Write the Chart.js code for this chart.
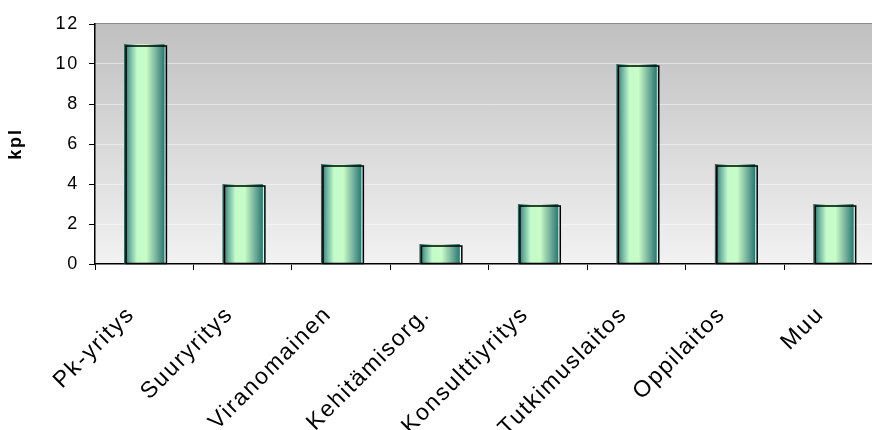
<!DOCTYPE html>
<html>
<head>
<meta charset="utf-8">
<script src="https://cdn.jsdelivr.net/npm/chart.js@4/dist/chart.umd.min.js"></script>
<style>
  html, body { margin: 0; padding: 0; background: #fff; overflow: hidden; }
  #wrap { width: 884px; height: 430px; }
</style>
</head>
<body>
<div id="wrap"><canvas id="barChart"></canvas></div>
<script>
var categories = ['Pk-yritys', 'Suuryritys', 'Viranomainen', 'Kehitämisorg.', 'Konsulttiyritys', 'Tutkimuslaitos', 'Oppilaitos', 'Muu'];
var counts = [11, 4, 5, 1, 3, 10, 5, 3];
var yTicks = [0, 2, 4, 6, 8, 10, 12];
var yTitle = 'kpl';

var fontFamily = 'Liberation Sans, Arial, sans-serif';

// gray gradient behind the plot + dark top edge
var plotBackground = {
  id: 'plotBackground',
  beforeDraw: function(chart) {
    var a = chart.chartArea, ctx = chart.ctx;
    ctx.letterSpacing = '1.8px';
    var g = ctx.createLinearGradient(0, a.top, 0, a.bottom);
    g.addColorStop(0, '#c0c0c0');
    g.addColorStop(1, '#f2f2f2');
    ctx.save();
    ctx.fillStyle = g;
    ctx.fillRect(a.left, a.top, a.right - a.left, a.bottom - a.top);
    ctx.fillStyle = '#8c8c8c';
    ctx.fillRect(a.left, a.top - 1, a.right - a.left, 2);
    ctx.restore();
  }
};

// cylinder-ish horizontal gradient on each bar, then a black outline
// shifted a little to the right/down, like the old 3D look
var barShade = {
  id: 'barShade',
  afterDatasetsDraw: function(chart) {
    var ctx = chart.ctx;
    ctx.save();
    chart.getDatasetMeta(0).data.forEach(function(bar) {
      var x0 = bar.x - bar.width / 2;
      var h = bar.base - bar.y;
      var g = ctx.createLinearGradient(x0, 0, x0 + bar.width, 0);
      g.addColorStop(0, '#17665f');
      g.addColorStop(0.12, '#5fa896');
      g.addColorStop(0.32, '#c4fbc8');
      g.addColorStop(0.55, '#c8fcc8');
      g.addColorStop(0.8, '#74b09d');
      g.addColorStop(1, '#267a70');
      ctx.fillStyle = g;
      ctx.fillRect(x0, bar.y, bar.width, h);
      ctx.strokeStyle = '#000';
      ctx.lineWidth = 1.5;
      ctx.strokeRect(x0 + 2, bar.y + 2, bar.width, h - 2);
    });
    ctx.restore();
  }
};

var ctx = document.getElementById('barChart');
new Chart(ctx, {
  type: 'bar',
  data: {
    labels: categories,
    datasets: [{
      data: counts,
      backgroundColor: 'rgba(0,0,0,0)',
      borderWidth: 0,
      categoryPercentage: 0.41,
      barPercentage: 1
    }]
  },
  options: {
    responsive: true,
    maintainAspectRatio: false,
    animation: false,
    layout: { padding: { top: 24, left: 0, right: 0, bottom: 0 } },
    plugins: { legend: { display: false }, tooltip: { enabled: false } },
    scales: {
      x: {
        afterFit: function(scale) { scale.height = 166; },
        grid: { drawOnChartArea: false, drawTicks: true, tickLength: 6, tickColor: '#000', offset: true },
        border: { color: '#000', width: 1.5 },
        ticks: {
          color: '#000',
          font: { family: fontFamily, size: 23 },
          maxRotation: 45, minRotation: 45,
          padding: 31,
          labelOffset: -13,
          autoSkip: false
        }
      },
      y: {
        min: 0, max: 12,
        afterFit: function(scale) { scale.width = 95; },
        afterBuildTicks: function(scale) { scale.ticks = yTicks.map(function(v) { return { value: v }; }); },
        grid: { color: 'rgba(255,255,255,0.45)', lineWidth: 1, drawTicks: true, tickLength: 6, tickColor: '#000' },
        border: { color: '#000', width: 1.5 },
        ticks: {
          color: '#000',
          font: { family: fontFamily, size: 18 },
          padding: 10
        },
        title: {
          display: true,
          text: yTitle,
          color: '#000',
          font: { family: fontFamily, size: 18, weight: 'bold' },
          padding: { top: 5, bottom: 0 }
        }
      }
    }
  },
  plugins: [plotBackground, barShade]
});
</script>
</body>
</html>
